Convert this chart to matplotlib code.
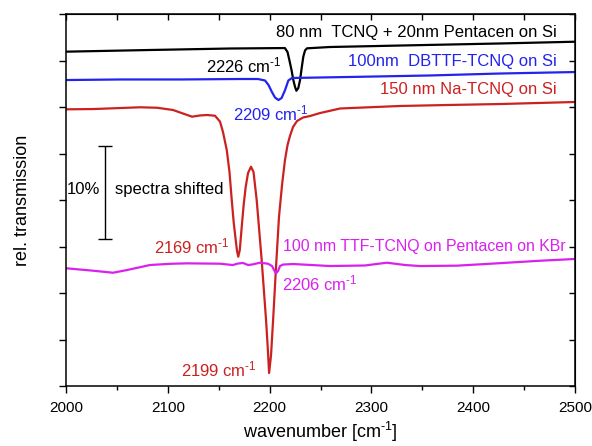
import matplotlib
matplotlib.use("Agg")
import matplotlib.pyplot as plt
from matplotlib.ticker import MultipleLocator, NullFormatter

plt.rcParams['font.family'] = ['Liberation Sans', 'DejaVu Sans']
plt.rcParams['mathtext.fontset'] = 'custom'
plt.rcParams['mathtext.rm'] = 'Liberation Sans'
plt.rcParams['mathtext.default'] = 'regular'

# spectra (wavenumber in cm^-1, shifted transmission in %)
black_wn = [2000, 2082.5, 2161, 2215, 2217.6, 2219.4, 2221.5, 2223.3, 2225, 2226.3,
            2228.2, 2229.9, 2231.5, 2233.1, 2234.8, 2236.7, 2259, 2328, 2426, 2500]
black_val = [35.95, 36.13, 36.29, 36.34, 35.91, 35.05, 33.98, 32.9, 32.15, 31.75,
             32.04, 32.9, 34.19, 35.41, 36.08, 36.31, 36.45, 36.61, 36.83, 37.02]

blue_wn = [2000, 2053, 2112, 2171, 2188.6, 2195.5, 2198.9, 2202.1, 2205.3, 2208.7,
           2211.8, 2215.2, 2218.4, 2222, 2279, 2357.6, 2426, 2500]
blue_val = [32.9, 32.96, 32.96, 33.01, 33.01, 32.85, 32.37, 31.65, 31.02, 30.75,
            30.97, 31.83, 32.85, 33.12, 33.23, 33.39, 33.6, 33.76]

red_wn = [2000, 2026.5, 2072.7, 2089.4, 2105.1, 2114.9, 2123.8, 2131.6, 2138.5, 2146.4,
          2151.3, 2154.2, 2157.9, 2160.6, 2162.8, 2164.7, 2166.7, 2168, 2169.2, 2170.7,
          2172.6, 2174.5, 2176.5, 2178.8, 2181.7, 2184.2, 2187.3, 2189.6, 2192.2, 2194.5,
          2196.5, 2198.3, 2199.5, 2201.4, 2203.6, 2206.3, 2209.2, 2212.2, 2215.1, 2217.6,
          2220, 2223, 2226.9, 2232.8, 2239.7, 2249.5, 2269.2, 2328.1, 2377.2, 2426.3, 2500]
red_val = [29.75, 29.78, 29.97, 29.92, 29.68, 29.3, 28.96, 29.09, 29.14, 29.06,
           28.42, 27.31, 25.38, 23.01, 20.0, 17.63, 15.7, 14.52, 13.9, 14.62,
           17.1, 19.46, 21.4, 22.9, 23.58, 23.01, 20.0, 16.99, 13.55, 10.11,
           7.1, 3.87, 1.4, 3.33, 7.42, 12.8, 18.17, 21.61, 24.3, 25.91,
           26.88, 27.85, 28.49, 28.87, 29.03, 29.35, 29.84, 30.11, 30.22, 30.32, 30.54]

mag_wn = [2000, 2026.5, 2046.2, 2059.9, 2082.5, 2102.2, 2118.9, 2151.3, 2159.1, 2164,
          2168.9, 2173.9, 2178.8, 2182.7, 2190.6, 2198.4, 2202.4, 2204.3, 2206.3, 2208.3,
          2210.2, 2213.2, 2223, 2259.3, 2293.7, 2315.3, 2333, 2347.7, 2384.1, 2423.4,
          2465.6, 2500]
mag_val = [12.66, 12.4, 12.18, 12.47, 13.01, 13.14, 13.19, 13.15, 13.06, 13.01,
           13.17, 13.23, 13.01, 13.06, 13.26, 13.15, 12.9, 12.47, 12.12, 12.37,
           12.9, 13.06, 13.12, 12.9, 12.96, 13.26, 13.01, 12.9, 12.94, 13.19,
           13.47, 13.66]

fig = plt.figure(figsize=(5.92, 4.46), dpi=100)
ax = fig.add_axes([0.1115, 0.1345, 0.8598, 0.8341])

c_blue = '#2323ee'
c_red = '#cc2121'
c_mag = '#d921ee'

ax.plot(black_wn, black_val, color='black', lw=1.6)
ax.plot(blue_wn, blue_val, color=c_blue, lw=1.6)
ax.plot(red_wn, red_val, color=c_red, lw=1.6)
ax.plot(mag_wn, mag_val, color=c_mag, lw=1.6)

ax.set_xlim(2000, 2500)
ax.set_ylim(0, 40)

ax.xaxis.set_major_locator(MultipleLocator(100))
ax.xaxis.set_minor_locator(MultipleLocator(50))
ax.yaxis.set_major_locator(MultipleLocator(5))
ax.yaxis.set_major_formatter(NullFormatter())
ax.tick_params(axis='x', which='major', direction='out', length=5, width=1, labelsize=11, pad=6)
ax.tick_params(axis='x', which='minor', direction='out', length=3, width=1)
ax.tick_params(axis='y', which='major', direction='out', length=5, width=1)
for s in ax.spines.values():
    s.set_linewidth(1.1)

top = ax.secondary_xaxis('top')
top.xaxis.set_major_locator(MultipleLocator(50))
top.xaxis.set_major_formatter(NullFormatter())
top.tick_params(direction='in', length=4, width=1)
right = ax.secondary_yaxis('right')
right.yaxis.set_major_locator(MultipleLocator(5))
right.yaxis.set_major_formatter(NullFormatter())
right.tick_params(direction='in', length=4, width=1)

sup = '$^{\u2010 1}$'
ax.set_xlabel('wavenumber [cm' + sup + ']', fontsize=13, labelpad=3)
ax.set_ylabel('rel. transmission', fontsize=13, labelpad=17)

fs = 12
ax.text(2482, 38.06, '80 nm  TCNQ + 20nm Pentacen on Si', color='black', fontsize=fs, ha='right', va='center')
ax.text(2212, 34.5, '2226 cm' + sup, color='black', fontsize=fs, ha='right', va='center')
ax.text(2482, 34.87, '100nm  DBTTF-TCNQ on Si', color=c_blue, fontsize=fs, ha='right', va='center')
ax.text(2164, 29.3, '2209 cm' + sup, color=c_blue, fontsize=fs, ha='left', va='center')
ax.text(2482, 31.83, '150 nm Na-TCNQ on Si', color=c_red, fontsize=fs, ha='right', va='center')
ax.text(2161, 14.98, '2169 cm' + sup, color=c_red, fontsize=fs, ha='right', va='center')
ax.text(2187.6, 1.75, '2199 cm' + sup, color=c_red, fontsize=fs, ha='right', va='center')
ax.text(2213.2, 15.05, '100 nm TTF-TCNQ on Pentacen on KBr', color=c_mag, fontsize=11.4, ha='left', va='center')
ax.text(2212, 11.0, '2206 cm' + sup, color=c_mag, fontsize=fs, ha='left', va='center')

# 10 % scale bar
bar_x = 2038.3
bar_lo, bar_hi = 15.8, 25.8
ax.errorbar([bar_x], [(bar_lo + bar_hi) / 2], yerr=[(bar_hi - bar_lo) / 2],
            color='black', lw=1, capsize=5, capthick=1)
ax.text(2016.7, 21.1, '10%', fontsize=fs, ha='center', va='center')
ax.text(2048.1, 21.1, 'spectra shifted', fontsize=fs, ha='left', va='center')

fig.savefig('out.png', dpi=100)
